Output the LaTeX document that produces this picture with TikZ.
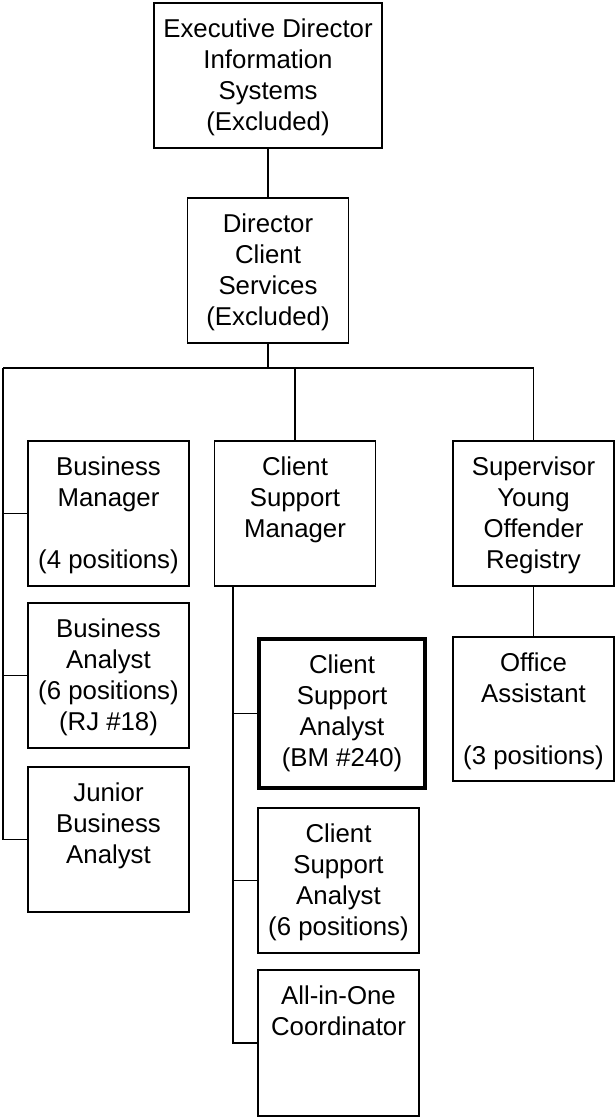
\documentclass[tikz,border=0pt]{standalone}
\usepackage{fontspec}
\setmainfont{Liberation Sans}
\newcommand{\orgtxt}[3]{\parbox[c][#2pt][t]{#1pt}{\centering\fontsize{25.8pt}{31.3pt}\selectfont\rule{0pt}{34pt}#3\par}}
\begin{document}
\begin{tikzpicture}[x=1pt,y=-1pt,
  orgbox/.style={draw=black,line width=1.8pt,inner sep=0pt,outer sep=0pt,fill=white},
  boldbox/.style={orgbox,line width=4.8pt},
  conn/.style={draw=black,line width=1.3pt}]
\useasboundingbox (0,0) rectangle (615,1117);
\node[orgbox] (ed) at (268,75.5) {\orgtxt{228}{145}{Executive Director\\Information\\Systems\\(Excluded)}};
\node[orgbox] (dcs) at (268,270.5) {\orgtxt{161}{145}{Director\\Client\\Services\\(Excluded)}};
\node[orgbox] (bm) at (108.5,513.5) {\orgtxt{161}{145}{Business\\Manager\\\mbox{}\\(4 positions)}};
\node[orgbox] (csm) at (295,513.5) {\orgtxt{161}{145}{Client\\Support\\Manager}};
\node[orgbox] (sup) at (533.5,513.5) {\orgtxt{161}{145}{Supervisor\\Young\\Offender\\Registry}};
\node[orgbox] (ba) at (108.5,675.5) {\orgtxt{161}{145}{Business\\Analyst\\(6 positions)\\(RJ \#18)}};
\node[orgbox] (jba) at (108.5,839.5) {\orgtxt{161}{145}{Junior\\Business\\Analyst}};
\node[boldbox] (csa1) at (342,713.5) {\orgtxt{166}{149}{Client\\Support\\Analyst\\(BM \#240)}};
\node[orgbox] (oa) at (533.5,709) {\orgtxt{161}{144}{Office\\Assistant\\\mbox{}\\(3 positions)}};
\node[orgbox] (csa2) at (338.5,880.5) {\orgtxt{161}{145}{Client\\Support\\Analyst\\(6 positions)}};
\node[orgbox] (aio) at (338.5,1043) {\orgtxt{161}{146}{All-in-One\\Coordinator}};
\coordinate (busl) at (3,368);
\coordinate (busm) at (268,368);
\coordinate (busr) at (533.5,368);
\coordinate (csmbus) at (233,586);
\draw[conn] (ed.south) -- (dcs.north);
\draw[conn] (dcs.south) -- (busm);
\draw[conn] (busl) -- (busr) -- (sup.north);
\draw[conn] (csm.north) -- (csm.north |- busm);
\draw[conn] (busl) -- (busl |- jba.west) -- (jba.west);
\draw[conn] (busl |- bm.west) -- (bm.west);
\draw[conn] (busl |- ba.west) -- (ba.west);
\draw[conn] (csmbus) -- (csmbus |- aio.west) -- (aio.west);
\draw[conn] (csmbus |- csa1.west) -- (csa1.west);
\draw[conn] (csmbus |- csa2.west) -- (csa2.west);
\draw[conn] (sup.south) -- (oa.north);
\end{tikzpicture}
\end{document}
